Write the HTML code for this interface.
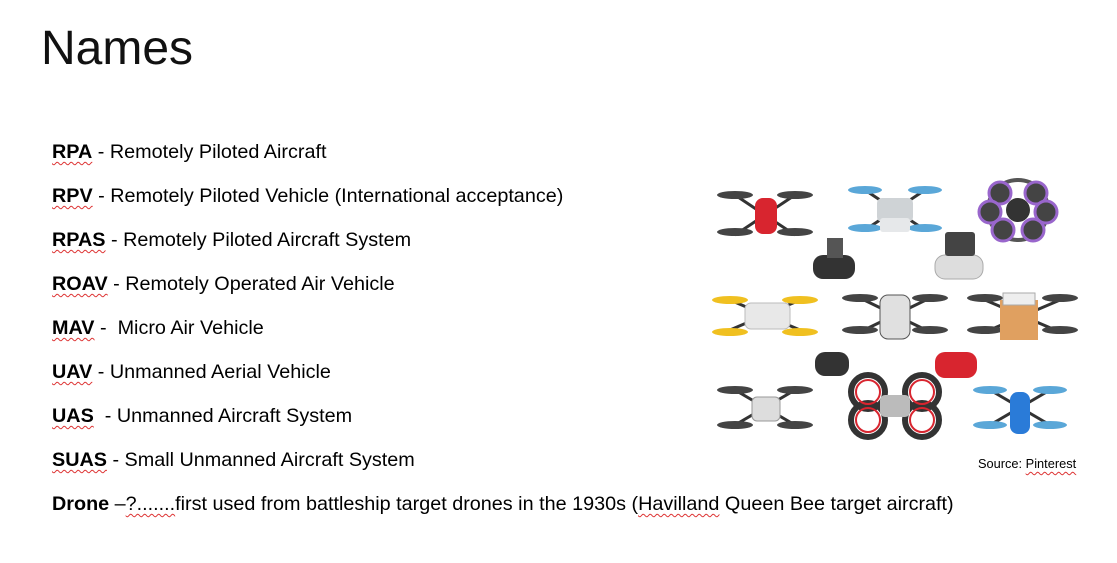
<!DOCTYPE html>
<html><head><meta charset="utf-8">
<style>
body{margin:0;width:1117px;height:563px;background:#fff;overflow:hidden;position:relative;font-family:"Liberation Sans",sans-serif;color:#000}
.title{position:absolute;left:41px;top:21px;font-size:48px;font-weight:normal;color:#111}
.item{position:absolute;left:52px;font-size:19.8px;white-space:nowrap;line-height:20px}
.item b{text-decoration:underline wavy #d33;text-decoration-thickness:1px;text-underline-offset:3px}
.sq{text-decoration:underline wavy #d33;text-decoration-thickness:1px;text-underline-offset:3px}
.src{position:absolute;left:978px;top:456px;font-size:12.8px}
svg{position:absolute;left:0;top:0}
</style></head><body>
<div class="title">Names</div>
<div class="item" style="top:142px"><b>RPA</b> - Remotely Piloted Aircraft</div>
<div class="item" style="top:186px"><b>RPV</b> - Remotely Piloted Vehicle (International acceptance)</div>
<div class="item" style="top:230px"><b>RPAS</b> - Remotely Piloted Aircraft System</div>
<div class="item" style="top:274px"><b>ROAV</b> - Remotely Operated Air Vehicle</div>
<div class="item" style="top:318px"><b>MAV</b> -&nbsp; Micro Air Vehicle</div>
<div class="item" style="top:362px"><b>UAV</b> - Unmanned Aerial Vehicle</div>
<div class="item" style="top:406px"><b>UAS</b>&nbsp; - Unmanned Aircraft System</div>
<div class="item" style="top:450px"><b>SUAS</b> - Small Unmanned Aircraft System</div>
<div class="item" style="top:494px"><b style="text-decoration:none">Drone</b> –<span class="sq">?.......</span>first used from battleship target drones in the 1930s (<span class="sq">Havilland</span> Queen Bee target aircraft)</div>
<div class="src">Source: <span class="sq">Pinterest</span></div>
<svg width="1117" height="563">
<g stroke="#333" stroke-width="3" fill="none">
<line x1="735" y1="195" x2="795" y2="235"/><line x1="795" y1="195" x2="735" y2="235"/>
<line x1="865" y1="190" x2="925" y2="230"/><line x1="925" y1="190" x2="865" y2="230"/>
<line x1="730" y1="300" x2="800" y2="330"/><line x1="800" y1="300" x2="730" y2="330"/>
<line x1="860" y1="298" x2="930" y2="332"/><line x1="930" y1="298" x2="860" y2="332"/>
<line x1="985" y1="300" x2="1060" y2="332"/><line x1="1060" y1="300" x2="985" y2="332"/>
<line x1="735" y1="390" x2="795" y2="425"/><line x1="795" y1="390" x2="735" y2="425"/>
<line x1="990" y1="390" x2="1050" y2="425"/><line x1="1050" y1="390" x2="990" y2="425"/>
</g>
<g fill="#444">
<ellipse cx="735" cy="195" rx="18" ry="4"/><ellipse cx="795" cy="195" rx="18" ry="4"/><ellipse cx="735" cy="232" rx="18" ry="4"/><ellipse cx="795" cy="232" rx="18" ry="4"/>
<ellipse cx="735" cy="390" rx="18" ry="4"/><ellipse cx="795" cy="390" rx="18" ry="4"/><ellipse cx="735" cy="425" rx="18" ry="4"/><ellipse cx="795" cy="425" rx="18" ry="4"/>
<ellipse cx="860" cy="298" rx="18" ry="4"/><ellipse cx="930" cy="298" rx="18" ry="4"/><ellipse cx="860" cy="330" rx="18" ry="4"/><ellipse cx="930" cy="330" rx="18" ry="4"/>
<ellipse cx="985" cy="298" rx="18" ry="4"/><ellipse cx="1060" cy="298" rx="18" ry="4"/><ellipse cx="985" cy="330" rx="18" ry="4"/><ellipse cx="1060" cy="330" rx="18" ry="4"/>
</g>
<g fill="#5aa7d8">
<ellipse cx="865" cy="190" rx="17" ry="4"/><ellipse cx="925" cy="190" rx="17" ry="4"/><ellipse cx="865" cy="228" rx="17" ry="4"/><ellipse cx="925" cy="228" rx="17" ry="4"/>
<ellipse cx="990" cy="390" rx="17" ry="4"/><ellipse cx="1050" cy="390" rx="17" ry="4"/><ellipse cx="990" cy="425" rx="17" ry="4"/><ellipse cx="1050" cy="425" rx="17" ry="4"/>
</g>
<g fill="#f0c020">
<ellipse cx="730" cy="300" rx="18" ry="4"/><ellipse cx="800" cy="300" rx="18" ry="4"/><ellipse cx="730" cy="332" rx="18" ry="4"/><ellipse cx="800" cy="332" rx="18" ry="4"/>
</g>
<rect x="755" y="198" width="22" height="36" rx="8" fill="#d8252f"/>
<rect x="877" y="198" width="36" height="24" rx="5" fill="#cfd3d6"/>
<rect x="880" y="218" width="30" height="14" rx="3" fill="#e6e8ea"/>
<g>
<circle cx="1018" cy="210" r="30" fill="none" stroke="#555" stroke-width="4"/>
<circle cx="1000" cy="193" r="11" fill="#444" stroke="#9966cc" stroke-width="3"/><circle cx="1036" cy="193" r="11" fill="#444" stroke="#9966cc" stroke-width="3"/>
<circle cx="990" cy="212" r="11" fill="#444" stroke="#9966cc" stroke-width="3"/><circle cx="1046" cy="212" r="11" fill="#444" stroke="#9966cc" stroke-width="3"/>
<circle cx="1003" cy="230" r="11" fill="#444" stroke="#9966cc" stroke-width="3"/><circle cx="1033" cy="230" r="11" fill="#444" stroke="#9966cc" stroke-width="3"/>
<circle cx="1018" cy="210" r="12" fill="#333"/>
</g>
<rect x="813" y="255" width="42" height="24" rx="10" fill="#333"/>
<rect x="827" y="238" width="16" height="20" fill="#555"/>
<rect x="935" y="255" width="48" height="24" rx="10" fill="#ddd" stroke="#aaa"/>
<rect x="945" y="232" width="30" height="24" rx="3" fill="#444"/>
<rect x="745" y="303" width="45" height="26" rx="6" fill="#e8e8e8" stroke="#bbb"/>
<rect x="880" y="295" width="30" height="44" rx="8" fill="#e0e0e0" stroke="#555"/>
<rect x="1000" y="300" width="38" height="40" fill="#e0a060"/>
<rect x="1003" y="293" width="32" height="12" fill="#eee" stroke="#aaa"/>
<rect x="815" y="352" width="34" height="24" rx="10" fill="#333"/>
<rect x="935" y="352" width="42" height="26" rx="10" fill="#d8252f"/>
<rect x="752" y="397" width="28" height="24" rx="5" fill="#ddd" stroke="#999"/>
<g fill="none" stroke="#333" stroke-width="6">
<circle cx="868" cy="392" r="17"/><circle cx="922" cy="392" r="17"/><circle cx="868" cy="420" r="17"/><circle cx="922" cy="420" r="17"/>
</g>
<g fill="none" stroke="#d8252f" stroke-width="2">
<circle cx="868" cy="392" r="12"/><circle cx="922" cy="392" r="12"/><circle cx="868" cy="420" r="12"/><circle cx="922" cy="420" r="12"/>
</g>
<rect x="880" y="395" width="30" height="22" rx="5" fill="#bbb"/>
<rect x="1010" y="392" width="20" height="42" rx="8" fill="#2a7bd8"/>
</svg>
</body></html>
